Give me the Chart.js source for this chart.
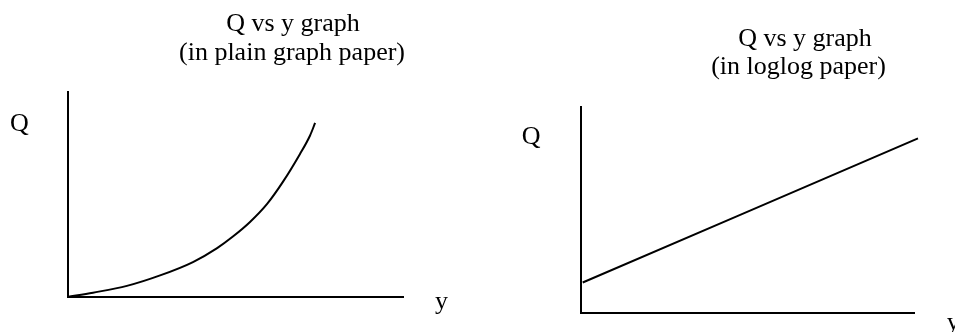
<!DOCTYPE html>
<html>
<head>
<meta charset="utf-8">
<script src="https://cdn.jsdelivr.net/npm/chart.js@4"></script>
<style>
  html, body { margin: 0; padding: 0; background: #fff; }
  #wrap { position: relative; width: 955px; height: 332px; overflow: hidden; }
  .box { position: absolute; top: 0; height: 332px; }
  #leftBox { left: 0; width: 478px; }
  #rightBox { left: 478px; width: 477px; }
</style>
</head>
<body>
<div id="wrap">
  <div class="box" id="leftBox"><canvas id="plain"></canvas></div>
  <div class="box" id="rightBox"><canvas id="loglog"></canvas></div>
</div>
<script>
// Q vs y (axis units 0-100, no ticks shown)
const plainY = [0, 7.6, 17.7, 27.6, 37.4, 44.6, 49.3, 54.4, 59.5, 64.2, 69.3, 72.3, 73.8];
const plainQ = [0, 2.1, 5.4, 10.5, 17.0, 23.8, 29.4, 36.5, 45.3, 56.0, 69.6, 78.6, 84.7];

// same relation on loglog paper: a straight line
const logY = [0.6, 46.8, 101.2];
const logQ = [14.9, 46.9, 84.7];

const plainTitle = ['Q vs y graph', '(in plain graph paper)'];
const logTitle = ['Q vs y graph', '(in loglog paper)'];
const axisNames = { q: 'Q', y: 'y' };

const FONT = '26px "Liberation Serif", "Times New Roman", serif';

// draws the hand-placed text of the sketch (titles and axis letters)
const sketchText = {
    id: 'sketchText',
    afterDraw(chart, args, opts) {
        const ctx = chart.ctx;
        ctx.save();
        ctx.fillStyle = '#000';
        ctx.font = FONT;
        ctx.textBaseline = 'alphabetic';
        opts.items.forEach(t => {
            ctx.textAlign = t.align || 'left';
            ctx.fillText(t.text, t.x, t.y);
        });
        ctx.restore();
    }
};

function axisOpts(min, max) {
    return {
        type: 'linear',
        min: min,
        max: max,
        ticks: { display: false },
        grid: { display: false, drawTicks: false },
        border: { display: true, color: '#000', width: 2 }
    };
}

function makeChart(canvas, xs, ys, padding, texts, smooth) {
    return new Chart(canvas.getContext('2d'), {
        type: 'line',
        data: {
            datasets: [{
                data: xs.map((x, i) => ({ x: x, y: ys[i] })),
                borderColor: '#000',
                borderWidth: 2,
                pointRadius: 0,
                fill: false,
                clip: false,
                cubicInterpolationMode: smooth ? 'monotone' : 'default',
                tension: 0
            }]
        },
        options: {
            responsive: true,
            maintainAspectRatio: false,
            animation: false,
            parsing: { xAxisKey: 'x', yAxisKey: 'y' },
            layout: { padding: padding },
            scales: {
                x: axisOpts(0, 100),
                y: axisOpts(0, 100)
            },
            plugins: {
                legend: { display: false },
                tooltip: { enabled: false },
                sketchText: { items: texts }
            }
        },
        plugins: [sketchText]
    });
}

makeChart(
    document.getElementById('plain'), plainY, plainQ,
    { left: 67.5, top: 91.5, right: 75, bottom: 35 },
    [
        { text: plainTitle[0], x: 293, y: 30.5, align: 'center' },
        { text: plainTitle[1], x: 292, y: 59.5, align: 'center' },
        { text: axisNames.q, x: 10, y: 130.5 },
        { text: axisNames.y, x: 435, y: 309 }
    ],
    true
);

makeChart(
    document.getElementById('loglog'), logY, logQ,
    { left: 102.7, top: 106.7, right: 41, bottom: 18.7 },
    [
        { text: logTitle[0], x: 327, y: 45.5, align: 'center' },
        { text: logTitle[1], x: 320.5, y: 73.5, align: 'center' },
        { text: axisNames.q, x: 43.7, y: 144 },
        { text: axisNames.y, x: 468.7, y: 330 }
    ],
    false
);
</script>
</body>
</html>
